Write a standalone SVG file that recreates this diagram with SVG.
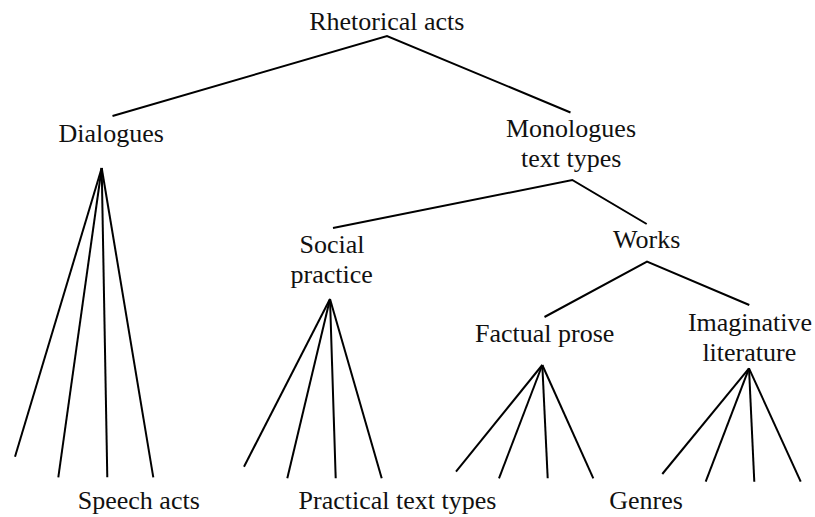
<svg xmlns="http://www.w3.org/2000/svg" width="815" height="517" viewBox="0 0 815 517">
  <style>
    .lbl { font-family: "Liberation Serif", "Times New Roman", serif; font-size: 26px; fill: #111; text-anchor: middle; }
    .edge { stroke: #000; stroke-width: 2; fill: none; stroke-linecap: butt; }
  </style>
  <rect width="815" height="517" fill="#fff"/>
  <g id="connectors">
    <polyline class="edge" points="112.5,116 387,36 570.5,112.5"/>
    <polyline class="edge" points="333,228 572.3,180 646.7,224"/>
    <polyline class="edge" points="544.5,317 647,261.5 749.3,305"/>
    <line class="edge" x1="101.7" y1="168" x2="15" y2="456.7"/>
    <line class="edge" x1="101.7" y1="168" x2="58.3" y2="477.3"/>
    <line class="edge" x1="101.7" y1="168" x2="107.3" y2="477.3"/>
    <line class="edge" x1="101.7" y1="168" x2="153.3" y2="477.3"/>
    <line class="edge" x1="330" y1="299" x2="244" y2="466.7"/>
    <line class="edge" x1="330" y1="299" x2="287.3" y2="478.3"/>
    <line class="edge" x1="330" y1="299" x2="335.7" y2="478.3"/>
    <line class="edge" x1="330" y1="299" x2="381.7" y2="478.3"/>
    <line class="edge" x1="542.3" y1="365" x2="456" y2="471.7"/>
    <line class="edge" x1="542.3" y1="365" x2="499" y2="478.3"/>
    <line class="edge" x1="542.3" y1="365" x2="547.7" y2="478.3"/>
    <line class="edge" x1="542.3" y1="365" x2="593.3" y2="478.3"/>
    <line class="edge" x1="749" y1="368.3" x2="662.3" y2="474"/>
    <line class="edge" x1="749" y1="368.3" x2="705.7" y2="481.7"/>
    <line class="edge" x1="749" y1="368.3" x2="754.3" y2="481.7"/>
    <line class="edge" x1="749" y1="368.3" x2="800.7" y2="481.7"/>
  </g>
  <g id="rhetorical-acts"><text class="lbl" x="386.8" y="30">Rhetorical acts</text></g>
  <g id="dialogues"><text class="lbl" x="111.2" y="141.7">Dialogues</text></g>
  <g id="monologues"><text class="lbl" x="571" y="136.7">Monologues</text><text class="lbl" x="571.2" y="166.7">text types</text></g>
  <g id="social-practice"><text class="lbl" x="332" y="252.7">Social</text><text class="lbl" x="331.7" y="283.3">practice</text></g>
  <g id="works"><text class="lbl" x="646.7" y="248.3">Works</text></g>
  <g id="factual-prose"><text class="lbl" x="544.7" y="341.7">Factual prose</text></g>
  <g id="imaginative-literature"><text class="lbl" x="750" y="331">Imaginative</text><text class="lbl" x="749.3" y="360.7">literature</text></g>
  <g id="speech-acts"><text class="lbl" x="138.8" y="509.3">Speech acts</text></g>
  <g id="practical-text-types"><text class="lbl" x="397.5" y="509.3">Practical text types</text></g>
  <g id="genres"><text class="lbl" x="646" y="509.3">Genres</text></g>
</svg>
